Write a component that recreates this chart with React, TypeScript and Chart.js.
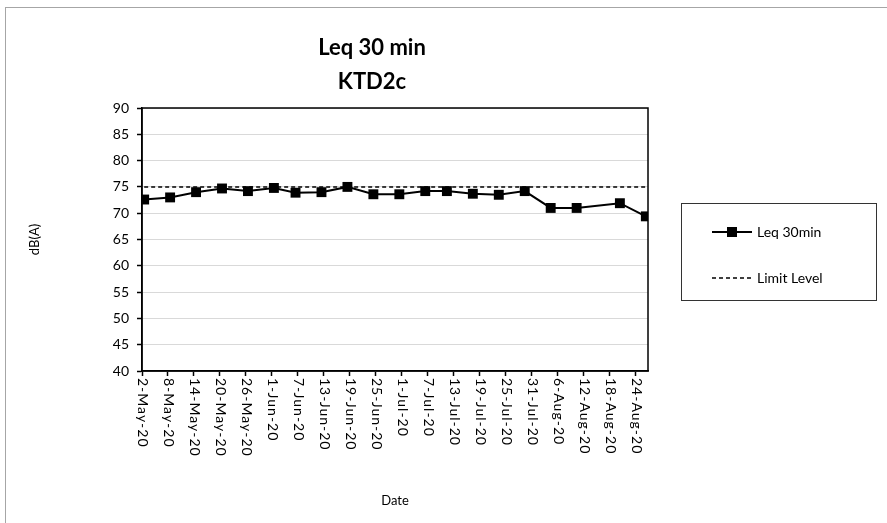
import React, { useEffect, useRef } from "react";
import { Chart, registerables } from "chart.js";

Chart.register(...registerables);

const chartTitle = ["Leq 30 min", "KTD2c"];
const yAxisTitle = "dB(A)";
const xAxisTitle = "Date";
const seriesNames = ["Leq 30min", "Limit Level"];

const measureDates = [
  "2-May-20", "8-May-20", "14-May-20", "20-May-20", "26-May-20",
  "1-Jun-20", "6-Jun-20", "12-Jun-20", "18-Jun-20", "24-Jun-20",
  "30-Jun-20", "6-Jul-20", "11-Jul-20", "17-Jul-20", "23-Jul-20",
  "29-Jul-20", "4-Aug-20", "10-Aug-20", "20-Aug-20", "26-Aug-20",
];
const leqValues = [
  72.6, 73.0, 74.0, 74.7, 74.2,
  74.8, 73.9, 74.0, 75.0, 73.6,
  73.6, 74.2, 74.2, 73.7, 73.5,
  74.2, 71.0, 71.0, 71.9, 69.4,
];
const limitValues = [
  75, 75, 75, 75, 75,
  75, 75, 75, 75, 75,
  75, 75, 75, 75, 75,
  75, 75, 75, 75, 75,
];
const xTickLabels = [
  "2-May-20", "8-May-20", "14-May-20", "20-May-20", "26-May-20",
  "1-Jun-20", "7-Jun-20", "13-Jun-20", "19-Jun-20", "25-Jun-20",
  "1-Jul-20", "7-Jul-20", "13-Jul-20", "19-Jul-20", "25-Jul-20",
  "31-Jul-20", "6-Aug-20", "12-Aug-20", "18-Aug-20", "24-Aug-20",
];
const yMin = 40;
const yMax = 90;
const yStep = 5;

const MONTHS: Record<string, number> = {
  Jan: 0, Feb: 1, Mar: 2, Apr: 3, May: 4, Jun: 5,
  Jul: 6, Aug: 7, Sep: 8, Oct: 9, Nov: 10, Dec: 11,
};
function toDay(label: string): number {
  const [d, m, y] = label.split("-");
  const t = Date.UTC(2000 + Number(y), MONTHS[m], Number(d));
  const t0 = Date.UTC(2020, 4, 2);
  return Math.round((t - t0) / 86400000);
}

const FONT = "Lato, 'Open Sans', sans-serif";

const decorPlugin = {
  id: "decor",
  afterDraw(chart: any) {
    const ctx = chart.ctx as CanvasRenderingContext2D;
    const area = chart.chartArea;
    const xs = chart.scales.x;
    ctx.save();
    // plot border (top & right)
    ctx.strokeStyle = "#000";
    ctx.lineWidth = 1.5;
    ctx.strokeRect(area.left, area.top, area.right - area.left, area.bottom - area.top);

    // rotated x tick labels (clockwise)
    ctx.fillStyle = "#000";
    ctx.font = `14px ${FONT}`;
    (ctx as any).letterSpacing = "1px";
    ctx.textAlign = "left";
    ctx.textBaseline = "middle";
    xs.ticks.forEach((t: any, i: number) => {
      const px = xs.getPixelForValue(t.value);
      ctx.save();
      ctx.translate(px + 1, xs.top + 7);
      ctx.rotate(Math.PI / 2);
      ctx.fillText(xTickLabels[i], 0, 0);
      ctx.restore();
    });
    (ctx as any).letterSpacing = "0px";

    // title
    ctx.font = `bold 22px ${FONT}`;
    ctx.textAlign = "center";
    ctx.fillText(chartTitle[0], 372, 48);
    ctx.fillText(chartTitle[1], 372, 82);

    // legend
    const lx = 681, ly = 203, lw = 195, lh = 97;
    ctx.strokeStyle = "#333";
    ctx.lineWidth = 1;
    ctx.strokeRect(lx + 0.5, ly + 0.5, lw, lh);
    const ds0 = chart.data.datasets[0];
    const ds1 = chart.data.datasets[1];
    const r1 = 232, r2 = 278;
    const x1 = 712, x2 = 752;
    ctx.strokeStyle = ds0.borderColor;
    ctx.lineWidth = ds0.borderWidth;
    ctx.beginPath();
    ctx.moveTo(x1, r1);
    ctx.lineTo(x2, r1);
    ctx.stroke();
    ctx.fillStyle = ds0.pointBackgroundColor;
    ctx.fillRect((x1 + x2) / 2 - 5, r1 - 5, 10, 10);
    ctx.strokeStyle = ds1.borderColor;
    ctx.lineWidth = ds1.borderWidth;
    ctx.setLineDash(ds1.borderDash);
    ctx.beginPath();
    ctx.moveTo(x1, r2);
    ctx.lineTo(x2, r2);
    ctx.stroke();
    ctx.setLineDash([]);
    ctx.fillStyle = "#000";
    ctx.font = `14px ${FONT}`;
    ctx.textAlign = "left";
    ctx.fillText(ds0.label, x2 + 5, r1);
    ctx.fillText(ds1.label, x2 + 5, r2);
    ctx.restore();
  },
};

export default function App() {
  const ref = useRef<HTMLCanvasElement | null>(null);
  useEffect(() => {
    if (!ref.current) return;
    Chart.defaults.font.family = FONT;
    const lastDay = toDay(measureDates[measureDates.length - 1]);
    const chart = new Chart(ref.current, {
      type: "line",
      data: {
        datasets: [
          {
            label: seriesNames[0],
            data: measureDates.map((d, i) => ({ x: toDay(d), y: leqValues[i] })),
            borderColor: "#000",
            borderWidth: 2,
            pointStyle: "rect",
            pointRadius: 7,
            pointHoverRadius: 7,
            pointBackgroundColor: "#000",
            pointBorderWidth: 0,
            tension: 0,
          },
          {
            label: seriesNames[1],
            data: measureDates.map((d, i) => ({ x: toDay(d), y: limitValues[i] })),
            borderColor: "#000",
            borderWidth: 1.5,
            borderDash: [4, 3],
            pointRadius: 0,
            tension: 0,
          },
        ] as any,
      },
      options: {
        animation: false,
        responsive: false,
        devicePixelRatio: 1,
        events: [],
        layout: { padding: { left: 20, top: 108, right: 239, bottom: 12 } },
        plugins: { legend: { display: false }, title: { display: false }, tooltip: { enabled: false } },
        scales: {
          x: {
            type: "linear",
            min: -0.5,
            max: lastDay + 0.5,
            afterBuildTicks: (scale: any) => {
              scale.ticks = xTickLabels.map((l) => ({ value: toDay(l) - 0.5 }));
            },
            afterFit: (scale: any) => {
              scale.height = 140;
            },
            ticks: {
              color: "rgba(0,0,0,0)",
              autoSkip: false,
              minRotation: 90,
              maxRotation: 90,
              callback: (_v: any, i: number) => xTickLabels[i],
            },
            grid: { drawOnChartArea: false, drawTicks: true, tickLength: 5, tickColor: "#000", tickWidth: 1.5 },
            border: { color: "#000", width: 1.5 },
            title: { display: true, text: xAxisTitle, color: "#000", font: { size: 13 }, padding: { top: 4, bottom: 2 } },
          },
          y: {
            min: yMin,
            max: yMax,
            afterFit: (scale: any) => {
              scale.width = 122;
            },
            ticks: { stepSize: yStep, color: "#000", font: { size: 14 }, padding: 8 },
            grid: { color: "#d9d9d9", lineWidth: 1, tickColor: "#000", tickLength: 5, tickWidth: 1.5 },
            border: { color: "#000", width: 1.5 },
            title: { display: true, text: yAxisTitle, color: "#000", font: { size: 13 }, padding: { top: 7, bottom: 0 } },
          },
        },
      } as any,
      plugins: [decorPlugin],
    });
    return () => chart.destroy();
  }, []);
  return (
    <div style={{ position: "absolute", left: 0, top: 0, width: 887, height: 523, overflow: "hidden", background: "#fff" }}>
      <div style={{ position: "absolute", left: 5, top: 7, width: 1000, height: 1000, border: "1px solid #a6a6a6" }} />
      <canvas ref={ref} width={887} height={523} style={{ position: "absolute", left: 0, top: 0, width: 887, height: 523 }} />
    </div>
  );
}
